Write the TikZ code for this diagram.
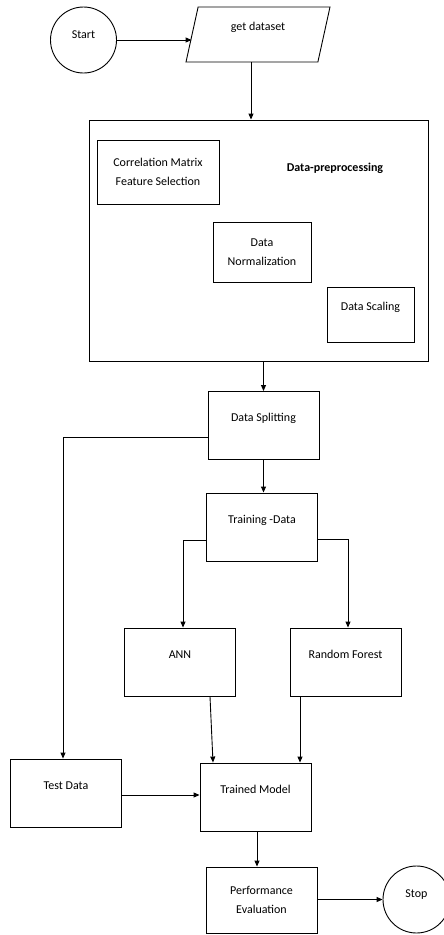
\documentclass[tikz,border=0pt]{standalone}
\usepackage{fontspec}
\setmainfont{Carlito}
\usetikzlibrary{shapes.geometric,arrows.meta}
\begin{document}
\begin{tikzpicture}[x=1pt,y=-1pt,
  font=\fontsize{12}{19}\selectfont,
  every path/.style={line width=0.9pt},
  arr/.style={-{Triangle[length=6pt,width=5pt]}},
  box/.style={draw,rectangle,inner sep=0pt,minimum width=111pt,minimum height=68pt},
  upper/.style={text height=9pt,text depth=17pt},
  term/.style={draw,circle,inner sep=0pt,text height=9pt,text depth=13pt}]
\useasboundingbox (0,0) rectangle (444,935);
\node[term,minimum size=66pt] (start) at (83.5,40) {Start};
\node[draw,trapezium,trapezium left angle=65,trapezium right angle=115,trapezium stretches body,
  minimum width=144pt,minimum height=55pt,inner sep=0pt,upper] (dataset) at (258,34.5) {get dataset};
\node[draw,rectangle,minimum width=339pt,minimum height=241pt,inner sep=0pt] (prep) at (258.5,240.5) {};
\node[font=\fontsize{12}{19}\selectfont\bfseries] (preptitle) at (335,168) {Data-preprocessing};
\node[box,minimum width=122pt,minimum height=64pt,align=center] (corr) at (158,172) {Correlation Matrix\\Feature Selection};
\node[box,minimum width=98pt,minimum height=60pt,align=center] (norm) at (262,252) {Data\\Normalization};
\node[box,minimum width=87pt,minimum height=55pt,upper] (scale) at (370.5,314.5) {Data Scaling};
\node[box,upper] (split) at (263.5,425.5) {Data Splitting};
\node[box,upper] (train) at (262,527) {Training -Data};
\node[box,upper] (ann) at (180,662) {ANN};
\node[box,upper] (rf) at (345.5,662) {Random Forest};
\node[box,upper] (test) at (66,793) {Test Data};
\node[box,upper] (model) at (255.5,797) {Trained Model};
\node[box,minimum height=66pt,align=center] (pe) at (261.5,900) {Performance\\Evaluation};
\node[term,minimum size=67pt] (stop) at (416.5,899.5) {Stop};
% connectors
\draw[arr] (start) -- (start -| dataset.west);
\draw[arr] ([xshift=-7pt]dataset.south) -- ([xshift=-7pt]dataset.south |- prep.north);
\draw[arr] (split.north |- prep.south) -- (split.north);
\draw[arr] ([yshift=-12pt]split.west) -| ([xshift=-3pt]test.north);
\draw[arr] (split.south) -- (split.south |- train.north);
\draw[arr] ([yshift=-13pt]train.west) -| ([xshift=3pt]ann.north);
\draw[arr] ([yshift=-12pt]train.east) -| ([xshift=2.5pt]rf.north);
\draw[arr] ([xshift=30pt]ann.south) -- ([xshift=-42.5pt]model.north);
\draw[arr] ([xshift=-45.5pt]rf.south) -- ([xshift=-45.5pt]rf.south |- model.north);
\draw[arr] (test.east |- 0,795) -- (model.west |- 0,795);
\draw[arr] ([xshift=1.5pt]model.south) -- ([xshift=1.5pt]model.south |- pe.north);
\draw[arr] (pe.east |- stop) -- (stop.west);
\end{tikzpicture}
\end{document}
